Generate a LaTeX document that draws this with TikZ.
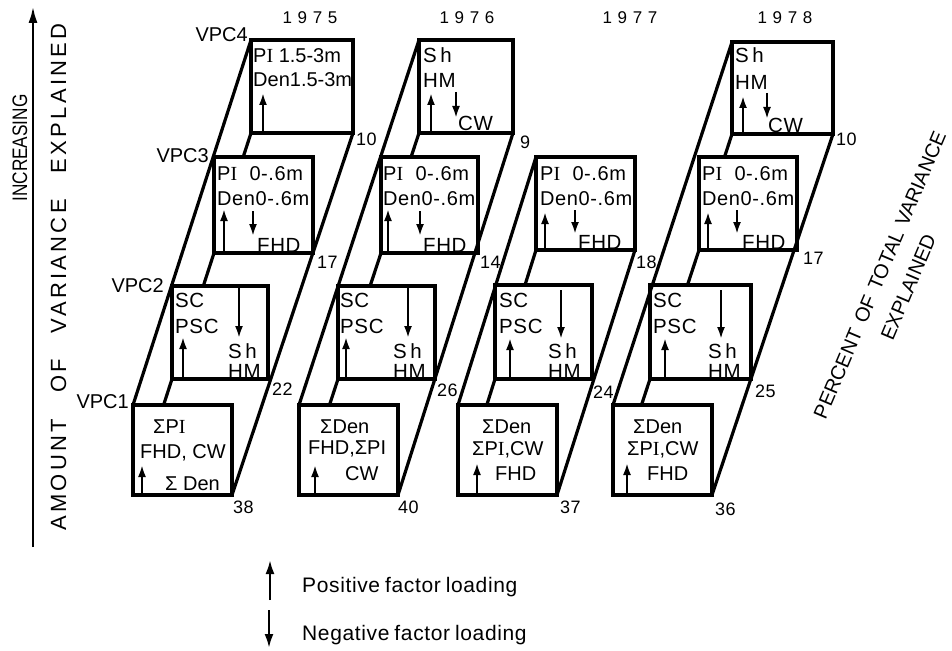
\documentclass[tikz,border=0pt]{standalone}
\usepackage{fontspec}
\setmainfont{Liberation Sans}
\newfontfamily\serifI{Liberation Serif}
\newfontfamily\bxf{Liberation Sans}[LetterSpace=3]
\newfontfamily\yrf{Liberation Sans}[LetterSpace=33]
\newfontfamily\axf{Liberation Sans}[LetterSpace=15]
\newfontfamily\lgf{Liberation Sans}[LetterSpace=3]
\newfontfamily\incf{Liberation Sans}[FakeStretch=0.82]
\usetikzlibrary{arrows.meta}
\newcommand\myPI{P{\serifI I}}
\begin{document}
\begin{tikzpicture}[x=1pt,y=-1pt,
  edge/.style={line width=3.2pt},
  ar/.style={line width=2.2pt,-{Latex[length=12pt,width=8pt]}},
  bigar/.style={line width=2.4pt,-{Latex[length=14pt,width=9pt]}},
  t/.style={inner sep=0pt,anchor=base west,font=\bxf\fontsize{20.5}{24}\selectfont},
  tn/.style={inner sep=0pt,anchor=base west,font=\bxf\fontsize{20}{24}\selectfont},
  tb/.style={inner sep=0pt,anchor=base west,font=\fontsize{20}{24}\selectfont},
  num/.style={inner sep=0pt,anchor=base west,font=\bxf\fontsize{18}{22}\selectfont},
  vpc/.style={inner sep=0pt,anchor=base east,font=\fontsize{20}{24}\selectfont},
  yr/.style={inner sep=0pt,anchor=base,font=\yrf\fontsize{17}{20}\selectfont}]
\useasboundingbox (0,0) rectangle (952,650);

% ---------- corner coordinates ----------
\coordinate (a1tl) at (133,405); \coordinate (a1br) at (232,495);
\coordinate (a2tl) at (172,286); \coordinate (a2br) at (268,379);
\coordinate (a3tl) at (214,157); \coordinate (a3br) at (313,253);
\coordinate (a4tl) at (251,40);  \coordinate (a4br) at (353,133);
\coordinate (a2f) at (163.6,405); \coordinate (a3f) at (203.3,286); \coordinate (a4f) at (243.2,157);

\coordinate (b1tl) at (299,405); \coordinate (b1br) at (398,495);
\coordinate (b2tl) at (338,286); \coordinate (b2br) at (435,379);
\coordinate (b3tl) at (381,157); \coordinate (b3br) at (478,253);
\coordinate (b4tl) at (419,40);  \coordinate (b4br) at (513,133);
\coordinate (b2f) at (329.5,405); \coordinate (b3f) at (370.1,286); \coordinate (b4f) at (411.1,157);

\coordinate (c1tl) at (458,405); \coordinate (c1br) at (557,495);
\coordinate (c2tl) at (495,285); \coordinate (c2br) at (592,379);
\coordinate (c3tl) at (536,157); \coordinate (c3br) at (635,250);
\coordinate (c2f) at (486.8,405); \coordinate (c3f) at (525,285);

\coordinate (d1tl) at (613,405); \coordinate (d1br) at (712,495);
\coordinate (d2tl) at (650,285); \coordinate (d2br) at (751,379);
\coordinate (d3tl) at (699,157); \coordinate (d3br) at (797,250);
\coordinate (d4tl) at (732,42);  \coordinate (d4br) at (833,134);
\coordinate (d2f) at (641.5,405); \coordinate (d3f) at (687.5,285); \coordinate (d4f) at (724.5,157);

% ---------- boxes and slanted edges ----------
\foreach \c/\n in {a/4,b/4,c/3,d/4}{
  \foreach \k in {1,...,\n}{ \draw[edge] (\c\k tl) rectangle (\c\k br); }
  \draw[edge] (\c1tl) -- (\c\n tl);
  \draw[edge] (\c1br) -- (\c\n br);
  \foreach \k in {2,...,\n}{ \draw[edge] (\c\k tl |- \c\k br) -- (\c\k f); }
}

% ---------- year labels ----------
\node[yr] (y75) at (310,24) {1975};
\node[yr] (y76) at (467,24) {1976};
\node[yr] (y77) at (630,24) {1977};
\node[yr] (y78) at (785,24) {1978};

% ---------- VPC labels ----------
\node[vpc] (vpc4) at (248,42) {VPC4};
\node[vpc] (vpc3) at (209,162) {VPC3};
\node[vpc] (vpc2) at (164,292) {VPC2};
\node[vpc] (vpc1) at (129,408) {VPC1};

% ---------- 1975 ----------
\node[tb] (a4x) at (253,63) {\myPI\ 1.5-3m};
\node[tb] (a4y) at (253,87) {Den1.5-3m};
\draw[ar] (263,133) -- (263,93);
\node[tn] (a3x) at (217,180) {\myPI\ \ 0-.6m};
\node[tn] (a3y) at (217,205) {Den0-.6m};
\draw[ar] (224,253) -- (224,209);
\draw[ar] (253,211) -- (253,236);
\node[t] (a3z) at (257,252) {FHD};
\node[t] (a2x) at (175,307) {SC};
\node[t] (a2y) at (175,333) {PSC};
\draw[ar] (183,379) -- (183,337);
\draw[ar] (239,288) -- (239,338);
\node[t] (a2z) at (228,358) {S\,h};
\node[t] (a2w) at (228,378) {HM};
\node[tb] (a1x) at (153,433) {Σ\myPI};
\node[tb] (a1y) at (140,458) {FHD, CW};
\node[tb] (a1z) at (165,490) {Σ Den};
\draw[ar] (142,495) -- (142,465);

% ---------- 1976 ----------
\node[t] (b4x) at (423,63) {S\,h};
\node[t] (b4y) at (423,88) {HM};
\draw[ar] (431,133) -- (431,93);
\draw[ar] (456,92) -- (456,118);
\node[t] (b4z) at (458,131) {CW};
\node[tn] (b3x) at (383,180) {\myPI\ \ 0-.6m};
\node[tn] (b3y) at (383,205) {Den0-.6m};
\draw[ar] (388,253) -- (388,209);
\draw[ar] (420,211) -- (420,236);
\node[t] (b3z) at (423,252) {FHD};
\node[t] (b2x) at (340,307) {SC};
\node[t] (b2y) at (340,333) {PSC};
\draw[ar] (346,379) -- (346,337);
\draw[ar] (408,288) -- (408,338);
\node[t] (b2z) at (393,358) {S\,h};
\node[t] (b2w) at (393,378) {HM};
\node[tb] (b1x) at (320,433) {ΣDen};
\node[tb] (b1y) at (308,454) {FHD,ΣPI};
\node[tb] (b1z) at (345,480) {CW};
\draw[ar] (315,495) -- (315,465);

% ---------- 1977 ----------
\node[tn] (c3x) at (540,180) {\myPI\ \ 0-.6m};
\node[tn] (c3y) at (540,205) {Den0-.6m};
\draw[ar] (545,250) -- (545,212);
\draw[ar] (575,210) -- (575,234);
\node[t] (c3z) at (578,249) {FHD};
\node[t] (c2x) at (499,307) {SC};
\node[t] (c2y) at (499,333) {PSC};
\draw[ar] (510,379) -- (510,338);
\draw[ar] (561,290) -- (561,339);
\node[t] (c2z) at (548,358) {S\,h};
\node[t] (c2w) at (548,378) {HM};
\node[tb] (c1x) at (482,433) {ΣDen};
\node[tb] (c1y) at (472,455) {Σ\myPI,CW};
\node[tb] (c1z) at (495,480) {FHD};
\draw[ar] (477,495) -- (477,463);

% ---------- 1978 ----------
\node[t] (d4x) at (735,63) {S\,h};
\node[t] (d4y) at (735,90) {HM};
\draw[ar] (743,134) -- (743,96);
\draw[ar] (767,93) -- (767,119);
\node[t] (d4z) at (768,132) {CW};
\node[tn] (d3x) at (702,180) {\myPI\ \ 0-.6m};
\node[tn] (d3y) at (702,205) {Den0-.6m};
\draw[ar] (708,250) -- (708,212);
\draw[ar] (737,210) -- (737,234);
\node[t] (d3z) at (742,249) {FHD};
\node[t] (d2x) at (653,307) {SC};
\node[t] (d2y) at (653,333) {PSC};
\draw[ar] (665,379) -- (665,338);
\draw[ar] (721,290) -- (721,339);
\node[t] (d2z) at (708,358) {S\,h};
\node[t] (d2w) at (708,378) {HM};
\node[tb] (d1x) at (633,433) {ΣDen};
\node[tb] (d1y) at (627,455) {Σ\myPI,CW};
\node[tb] (d1z) at (647,480) {FHD};
\draw[ar] (627,495) -- (627,463);

% ---------- percent values ----------
\node[num] (p75a) at (356,146) {10};
\node[num] (p76a) at (520,148) {9};
\node[num] (p78a) at (836,146) {10};
\node[num] (p75b) at (317,268) {17};
\node[num] (p76b) at (480,268) {14};
\node[num] (p77b) at (636,268) {18};
\node[num] (p78b) at (803,264) {17};
\node[num] (p75c) at (272,395) {22};
\node[num] (p76c) at (437,396) {26};
\node[num] (p77c) at (593,398) {24};
\node[num] (p78c) at (755,397) {25};
\node[num] (p75d) at (233,513) {38};
\node[num] (p76d) at (398,513) {40};
\node[num] (p77d) at (560,513) {37};
\node[num] (p78d) at (715,515) {36};

% ---------- left axis ----------
\coordinate (axb) at (33,547);
\coordinate (axt) at (33,6);
\draw[line width=2.8pt,-{Latex[length=17pt,width=9pt]}] (axb) -- (axt);
\node[inner sep=0pt,rotate=90,font=\incf\fontsize{21}{24}\selectfont] (inc) at (20,148) {INCREASING};
\node[inner sep=0pt,rotate=90,font=\axf\fontsize{22}{26}\selectfont] (amt) at (58.5,277) {AMOUNT\hspace{26pt}OF\hspace{26pt}VARIANCE\hspace{26pt}EXPLAINED};

% ---------- right axis ----------
\node[inner sep=0pt,rotate=67,align=center,font=\fontsize{20}{31}\selectfont] (pct) at (894,281)
  {PERCENT\hspace{8pt}OF\hspace{8pt}TOTAL\hspace{7pt}VARIANCE\\EXPLAINED\hspace{29pt}};

% ---------- legend ----------
\draw[bigar] (270,600) -- (270,560);
\node[inner sep=0pt,anchor=base west,font=\lgf\fontsize{21}{24}\selectfont] (pos) at (302,592) {Positive\hspace{5pt}factor\hspace{5pt}loading};
\draw[bigar] (269,610) -- (269,648);
\node[inner sep=0pt,anchor=base west,font=\lgf\fontsize{21}{24}\selectfont] (neg) at (302,640) {Negative\hspace{5pt}factor\hspace{5pt}loading};
\end{tikzpicture}
\end{document}
